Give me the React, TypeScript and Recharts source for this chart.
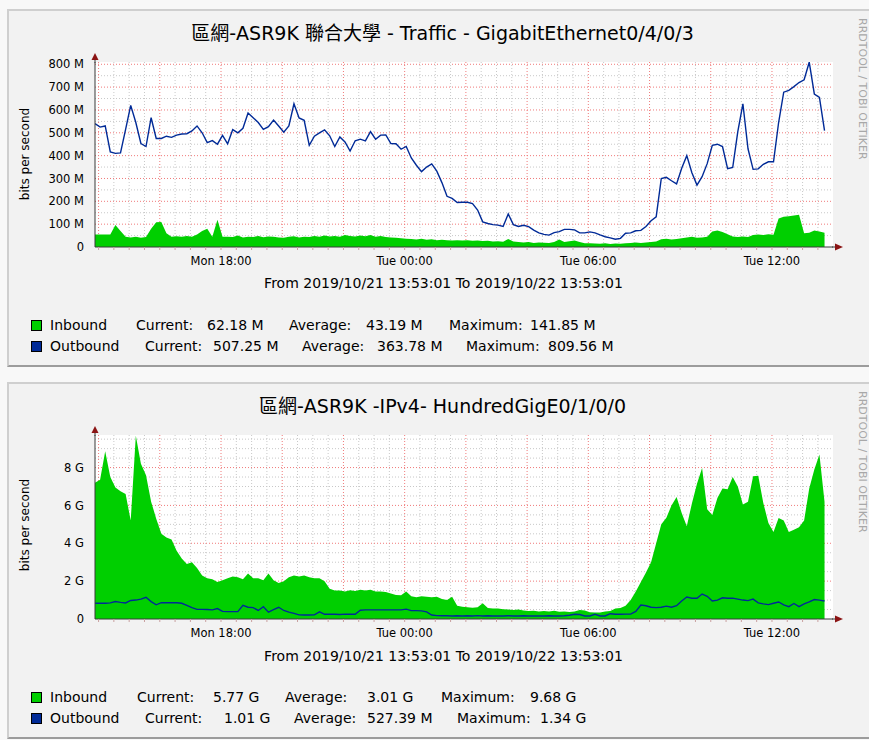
import React from 'react';
import { ComposedChart, Area, Line, XAxis, YAxis, CartesianGrid } from 'recharts';

// ---- data (10-minute samples starting 2019/10/21 13:53:01) ----
const STEP_MIN = 10;

const inbound1 = [
  55, 55, 55, 55, 96, 70, 45, 42, 45, 40,
  44, 80, 108, 110, 60, 45, 47, 45, 48, 45,
  55, 70, 80, 45, 119, 45, 45, 44, 50, 42,
  45, 44, 48, 43, 46, 45, 42, 40, 45, 47,
  42, 45, 44, 48, 45, 50, 46, 48, 45, 52,
  48, 46, 50, 47, 52, 45, 48, 44, 42, 40,
  38, 36, 35, 33, 36, 32, 34, 30, 32, 30,
  28, 30, 28, 30, 27, 28, 26, 27, 24, 25,
  23, 35, 24, 22, 20, 22, 18, 20, 19, 18,
  22, 33, 22, 25, 28, 22, 16, 16, 15, 14,
  16, 13, 15, 14, 16, 18, 20, 18, 20, 22,
  24, 34, 36, 33, 35, 38, 42, 45, 40, 42,
  45, 68, 72, 66, 56, 46, 44, 46, 44, 52,
  55, 52, 56, 54, 125, 132, 135, 138, 141, 60,
  62, 72, 68, 62,
];

const outbound1 = [
  540, 525, 530, 416, 410, 412, 515, 620, 545, 453,
  440, 566, 475, 475, 485, 480, 490, 495, 496, 508,
  530, 500, 457, 466, 450, 489, 452, 514, 500, 520,
  587, 566, 545, 515, 527, 556, 530, 503, 530, 627,
  565, 555, 445, 485, 500, 513, 487, 440, 482, 460,
  420, 465, 472, 465, 505, 472, 490, 491, 453, 452,
  428, 440, 390, 358, 330, 350, 364, 332, 282, 222,
  213, 195, 196, 196, 190, 162, 110, 103, 98, 96,
  90, 145, 98, 90, 95, 89, 74, 62, 55, 52,
  63, 67, 77, 77, 75, 62, 62, 66, 62, 53,
  45, 40, 34, 38, 60, 62, 71, 73, 90, 115,
  132, 300, 305, 290, 276, 345, 400, 325, 271, 308,
  365, 445, 450, 440, 343, 348, 505, 627, 430, 340,
  342, 362, 373, 373, 545, 678, 686, 702, 720, 732,
  809, 670, 655, 510,
];

const inbound2 = [
  7.2, 7.36, 8.86, 7.5, 6.95, 6.75, 6.6, 5.2, 9.68, 8.2,
  7.6, 6.2, 5.3, 4.5, 4.3, 4.2, 3.6, 3.2, 2.9, 3.0,
  2.7, 2.3, 2.15, 2.1, 1.95, 2.05, 2.15, 2.25, 2.2, 2.1,
  2.4, 2.15, 2.15, 2.05, 2.4, 2.05, 1.9, 2.0, 2.2, 2.3,
  2.25, 2.3, 2.2, 2.15, 2.15, 2.0, 1.6, 1.5, 1.5, 1.45,
  1.52, 1.48, 1.54, 1.5, 1.54, 1.45, 1.45, 1.42, 1.35, 1.27,
  1.25, 1.45, 1.2, 1.15, 1.2, 1.18, 1.15, 1.18, 1.05, 1.0,
  1.18, 0.7, 0.65, 0.62, 0.6, 0.62, 0.83, 0.58, 0.55, 0.55,
  0.52, 0.5, 0.48, 0.5, 0.45, 0.42, 0.44, 0.4, 0.42, 0.4,
  0.43, 0.38, 0.4, 0.37, 0.4, 0.48, 0.45, 0.36, 0.34, 0.34,
  0.4, 0.42, 0.56, 0.58, 0.7, 1.0, 1.45, 1.95, 2.45, 3.0,
  4.0, 5.0, 5.35, 6.0, 6.45, 5.6, 4.9, 6.1, 7.15, 7.98,
  5.8, 5.5, 6.39, 6.9, 6.85, 7.5, 7.0, 6.05, 6.2, 7.54,
  7.57, 6.13, 5.07, 4.6, 5.34, 5.2, 4.6, 4.72, 4.85, 5.2,
  6.9, 7.9, 8.69, 6.2,
];

const outbound2 = [
  0.83, 0.83, 0.83, 0.85, 0.92, 0.88, 0.85, 0.98, 1.0, 1.05,
  1.15, 0.92, 0.75, 0.86, 0.86, 0.86, 0.86, 0.83, 0.72, 0.6,
  0.51, 0.51, 0.5, 0.48, 0.55, 0.4, 0.39, 0.39, 0.39, 0.72,
  0.62, 0.6, 0.45, 0.65, 0.36, 0.5, 0.62, 0.45, 0.36, 0.3,
  0.22, 0.21, 0.21, 0.22, 0.38, 0.25, 0.25, 0.25, 0.24, 0.26,
  0.25, 0.25, 0.46, 0.48, 0.48, 0.48, 0.48, 0.48, 0.48, 0.48,
  0.48, 0.52, 0.44, 0.44, 0.43, 0.38, 0.21, 0.18, 0.17, 0.17,
  0.16, 0.17, 0.16, 0.17, 0.16, 0.18, 0.16, 0.17, 0.16, 0.16,
  0.16, 0.17, 0.16, 0.16, 0.17, 0.16, 0.16, 0.16, 0.16, 0.17,
  0.16, 0.16, 0.17, 0.2, 0.25, 0.24, 0.16, 0.16, 0.25, 0.16,
  0.16, 0.28, 0.25, 0.25, 0.26, 0.26, 0.4, 0.74, 0.7, 0.62,
  0.6, 0.62, 0.68, 0.62, 0.7, 0.95, 1.16, 1.1, 1.1, 1.32,
  1.2, 0.95, 1.0, 1.12, 1.1, 1.1, 1.05, 1.0, 0.97, 1.05,
  0.85, 0.8, 0.76, 0.83, 0.9, 0.75, 0.65, 0.82, 0.65, 0.8,
  0.9, 1.03, 1.0, 0.95,
];

// time axis: hours after 13:53:01
const X_MAX = 24.11;
const FIRST_HALF_HOUR = 419 / 3600; // 14:00:00
const timeLabels = ['Mon 18:00', 'Tue 00:00', 'Tue 06:00', 'Tue 12:00'];
const timeLabelHours = [4, 10, 16, 22].map((h) => h + FIRST_HALF_HOUR);

const yTicks1 = [0, 100, 200, 300, 400, 500, 600, 700, 800];
const yMajor1 = [100, 200, 300, 400, 500, 600, 700, 800];
const yMinor1 = [50, 150, 250, 350, 450, 550, 650, 750];
const yTicks2 = [0, 2, 4, 6, 8];
const yMajor2 = [2, 4, 6, 8];
const yMinor2 = [0.5, 1, 1.5, 2.5, 3, 3.5, 4.5, 5, 5.5, 6.5, 7, 7.5, 8.5, 9, 9.5];

const titles = ['區網-ASR9K 聯合大學 - Traffic - GigabitEthernet0/4/0/3', '區網-ASR9K -IPv4- HundredGigE0/1/0/0'];
const rangeText = 'From 2019/10/21 13:53:01 To 2019/10/22 13:53:01';

const legend1 = [
  { name: 'Inbound', cur: '62.18 M', avg: '43.19 M', max: '141.85 M' },
  { name: 'Outbound', cur: '507.25 M', avg: '363.78 M', max: '809.56 M' },
];
const legend2 = [
  { name: 'Inbound', cur: '5.77 G', avg: '3.01 G', max: '9.68 G' },
  { name: 'Outbound', cur: '1.01 G', avg: '527.39 M', max: '1.34 G' },
];

// ---- styles ----
const FONT = "'DejaVu Sans', 'Noto Sans CJK TC', sans-serif";
const IN_COLOR = '#00CF00';
const OUT_COLOR = '#002A97';
const ARROW = '#8B1414';

const allHalfHours = Array.from({ length: 48 }, (_, k) => FIRST_HALF_HOUR + 0.5 * k);
const xMajor = allHalfHours.filter((_, k) => k % 4 === 0);
const xMinor = allHalfHours.filter((_, k) => k % 4 !== 0);

function buildData(inb: number[], out: number[]) {
  return inb.map((v, i) => ({ t: (i * STEP_MIN) / 60, inb: v, out: out[i] }));
}

const data1 = buildData(inbound1, outbound1);
const data2 = buildData(inbound2, outbound2);

function xLabel(v: number) {
  const idx = timeLabelHours.findIndex((h) => Math.abs(h - v) < 1e-6);
  return idx >= 0 ? timeLabels[idx] : '';
}

type ChartProps = {
  data: any[];
  top: number;
  yMax: number;
  yTicks: number[];
  yMajor: number[];
  yMinor: number[];
  unit: string;
  plotH: number;
};

function RrdChart({ data, top, yMax, yTicks, yMajor, yMinor, unit, plotH }: ChartProps) {
  const H = 62 + plotH + 30 + 23;
  return (
    <div style={{ position: 'absolute', left: 0, top, width: 869, height: H }}>
      <ComposedChart width={869} height={H} data={data} margin={{ top: 62, right: 36, bottom: 23, left: 35 }}>
        <CartesianGrid
          fill="#ffffff"
          fillOpacity={1}
          stroke="#c8c8c8"
          strokeDasharray="1 2"
          horizontalValues={yMinor}
          verticalValues={xMinor}
        />
        <CartesianGrid
          stroke="#f07a7a"
          strokeDasharray="1 2"
          horizontalValues={yMajor}
          verticalValues={xMajor}
        />
        <XAxis
          type="number"
          dataKey="t"
          domain={[0, X_MAX]}
          allowDataOverflow
          ticks={allHalfHours}
          interval={0}
          tickFormatter={xLabel}
          tickSize={3}
          tickMargin={7}
          height={30}
          axisLine={{ stroke: '#3a3a3a' }}
          tickLine={{ stroke: '#c9a0a0' }}
          tick={{ fontSize: 11.5, fill: '#000', fontFamily: FONT }}
        />
        <YAxis
          type="number"
          domain={[0, yMax]}
          allowDataOverflow
          ticks={yTicks}
          interval={0}
          width={60}
          tickSize={0}
          tickMargin={11}
          tickLine={false}
          axisLine={{ stroke: '#3a3a3a' }}
          tickFormatter={(v: number) => (v === 0 ? '0' : `${v} ${unit}`)}
          tick={{ fontSize: 11.5, fill: '#000', fontFamily: FONT }}
        />
        <Area
          dataKey="inb"
          type="linear"
          fill={IN_COLOR}
          fillOpacity={1}
          stroke="none"
          dot={false}
          activeDot={false}
          isAnimationActive={false}
        />
        <Line
          dataKey="out"
          type="linear"
          stroke={OUT_COLOR}
          strokeWidth={1.4}
          dot={false}
          activeDot={false}
          isAnimationActive={false}
        />
      </ComposedChart>
    </div>
  );
}

function Panel({ top, height }: { top: number; height: number }) {
  return (
    <div
      style={{
        position: 'absolute',
        left: 7,
        top,
        width: 872,
        height,
        boxSizing: 'border-box',
        background: '#F2F2F2',
        borderTop: '2px solid #CFCFCF',
        borderLeft: '2px solid #CFCFCF',
        borderBottom: '2px solid #9C9C9C',
        borderRight: '2px solid #9C9C9C',
      }}
    />
  );
}

const textBase: React.CSSProperties = { position: 'absolute', fontFamily: FONT, color: '#000', whiteSpace: 'nowrap' };

function Legend({ rows, top, xs }: { rows: typeof legend1; top: number; xs: number[][] }) {
  const colors = [IN_COLOR, OUT_COLOR];
  return (
    <>
      {rows.map((r, ri) => {
        const y = top + ri * 20.5;
        const pieces = [r.name, 'Current:', r.cur, 'Average:', r.avg, 'Maximum:', r.max];
        return (
          <React.Fragment key={ri}>
            <div
              style={{
                position: 'absolute',
                left: 31,
                top: y + 3,
                width: 11,
                height: 11,
                boxSizing: 'border-box',
                border: '1px solid #000',
                background: colors[ri],
              }}
            />
            {pieces.map((p, pi) => (
              <div key={pi} style={{ ...textBase, left: xs[ri][pi], top: y, fontSize: 14, lineHeight: '16px' }}>
                {p}
              </div>
            ))}
          </React.Fragment>
        );
      })}
    </>
  );
}

function Decor({ plotTop, plotBottom }: { plotTop: number; plotBottom: number }) {
  return (
    <svg
      width={869}
      height={740}
      style={{ position: 'absolute', left: 0, top: 0, pointerEvents: 'none' }}
    >
      <line x1={95} y1={plotTop - 4} x2={95} y2={plotTop + 1} stroke="#3a3a3a" strokeWidth={1} />
      <polygon points={`95,${plotTop - 9} 91.5,${plotTop - 2} 98.5,${plotTop - 2}`} fill={ARROW} />
      <line x1={832} y1={plotBottom} x2={836} y2={plotBottom} stroke="#3a3a3a" strokeWidth={1} />
      <polygon points={`843,${plotBottom} 835,${plotBottom - 3.5} 835,${plotBottom + 3.5}`} fill={ARROW} />
    </svg>
  );
}

function Texts({ title, titleTop, axisTop, fromTop, vTop }: { title: string; titleTop: number; axisTop: number; fromTop: number; vTop: number }) {
  return (
    <>
      <div style={{ ...textBase, left: 8, width: 869, top: titleTop, textAlign: 'center', fontSize: 19, lineHeight: '22px' }}>
        {title}
      </div>
      <div style={{ ...textBase, left: 9, width: 869, top: fromTop, textAlign: 'center', fontSize: 14, lineHeight: '16px' }}>
        {rangeText}
      </div>
      <div
        style={{
          ...textBase,
          left: -35,
          top: axisTop - 7,
          width: 120,
          textAlign: 'center',
          fontSize: 12,
          lineHeight: '14px',
          transform: 'rotate(-90deg)',
        }}
      >
        bits per second
      </div>
      <div
        style={{
          ...textBase,
          left: 856,
          top: vTop,
          fontSize: 11,
          lineHeight: '12px',
          writingMode: 'vertical-rl',
          color: '#A8A8A8',
        }}
      >
        RRDTOOL / TOBI OETIKER
      </div>
    </>
  );
}

const legendX1 = [
  [50, 136, 207, 289, 366, 449, 530],
  [50, 145, 213, 302, 377, 466, 548],
];
const legendX2 = [
  [50, 137, 213, 285, 367, 441, 530],
  [50, 145, 224, 294, 367, 457, 540],
];

export default function App() {
  return (
    <div
      style={{
        position: 'absolute',
        left: 0,
        top: 0,
        width: 869,
        height: 740,
        overflow: 'hidden',
        background: '#F8F8F8',
        fontFamily: FONT,
      }}
    >
      <Panel top={9} height={358} />
      <Panel top={382} height={357} />

      <RrdChart data={data1} top={0} yMax={810} yTicks={yTicks1} yMajor={yMajor1} yMinor={yMinor1} unit="M" plotH={185} />
      <RrdChart data={data2} top={373} yMax={9.72} yTicks={yTicks2} yMajor={yMajor2} yMinor={yMinor2} unit="G" plotH={184} />

      <Decor plotTop={62} plotBottom={247} />
      <Decor plotTop={435} plotBottom={619} />

      <Texts title={titles[0]} titleTop={22} axisTop={154} fromTop={275} vTop={18} />
      <Texts title={titles[1]} titleTop={395} axisTop={525} fromTop={648} vTop={391} />

      <Legend rows={legend1} top={317} xs={legendX1} />
      <Legend rows={legend2} top={689} xs={legendX2} />
    </div>
  );
}
